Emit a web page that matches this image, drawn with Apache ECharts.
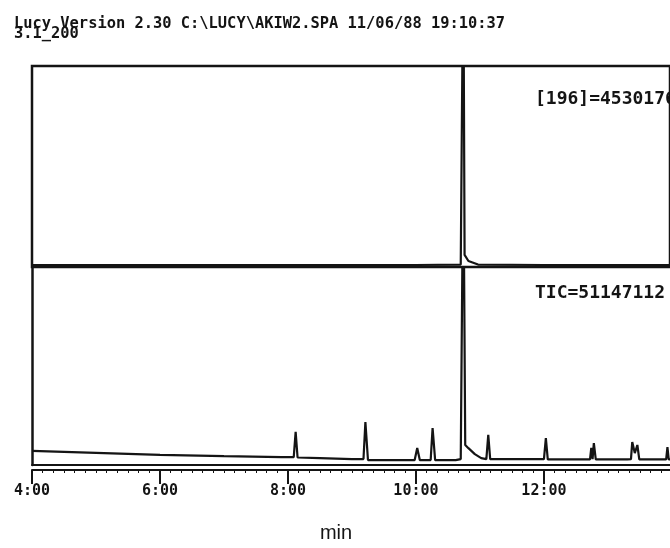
<!DOCTYPE html>
<html><head><meta charset="utf-8">
<script src="https://cdn.jsdelivr.net/npm/echarts@6/dist/echarts.min.js"></script>
<style>html,body{margin:0;padding:0;background:#fff}#c{width:670px;height:548px}</style>
</head><body><div id="c"></div>
<script>
// ---- text ----
const headerLines = ["Lucy Version 2.30 C:\\LUCY\\AKIW2.SPA 11/06/88 19:10:37", "3.1_200"];
const upperLabel = "[196]=4530176";
const lowerLabel = "TIC=51147112";
const xTickValues = [4, 6, 8, 10, 12];
const xTickLabels = ["4:00", "6:00", "8:00", "10:00", "12:00"];
const xAxisName = "min";

// ---- ion 196 trace (time in min, relative intensity % of panel) ----
const ion196Time  = [4.00, 6.00, 8.00, 10.00, 10.70, 10.74, 10.76, 10.82, 10.97, 12.00, 13.97];
const ion196Value = [1.0,  1.0,  1.0,  1.0,   1.2,   160,   6,     3,     1.2,   1.0,   1.0];

// ---- TIC trace (time in min, relative intensity % of panel) ----
const ticTime  = [4.00, 5.00, 6.00, 7.00, 7.90, 8.09, 8.12, 8.15, 8.50, 9.00, 9.18, 9.21, 9.25, 9.60, 9.98, 10.02, 10.06,
                  10.23, 10.26, 10.30, 10.62, 10.70, 10.74, 10.77, 10.82, 10.92, 11.02, 11.10, 11.13, 11.16, 11.60,
                  12.00, 12.03, 12.06, 12.50, 12.72, 12.74, 12.76, 12.78, 12.81, 13.30, 13.36, 13.38, 13.42, 13.46,
                  13.49, 13.80, 13.91, 13.93, 13.95, 13.97];
const ticValue = [7.1,  6.1,  5.1,  4.5,  4.0,  4.0,  16.7, 3.8,  3.5,  3.0,  3.0,  21.7, 2.5,  2.5,  2.5,  8.6,   2.5,
                  2.5,   18.7,  2.5,   2.5,   3.0,   160,   10.1,  8.5,   5.5,   3.5,   3.0,   15.2,  3.0,   3.0,
                  3.0,   13.6,  2.8,   2.8,   2.8,   8.6,   3.0,   11.1,  2.8,   2.8,   3.0,   11.6,  6.0,   10.1,
                  2.8,   2.8,   2.8,   9.0,   2.8,   2.8];

const X_MIN = 4, X_MAX = 13.97;
const INK = '#141414';
const MONO = '"DejaVu Sans Mono", "Liberation Mono", monospace';
const pair = (t, v) => t.map((x, i) => [x, v[i]]);
const tickFmt = v => { const i = xTickValues.indexOf(Math.round(v * 100) / 100); return i >= 0 ? xTickLabels[i] : ''; };

const chart = echarts.init(document.getElementById('c'), null, {renderer: 'canvas'});
chart.setOption({
  animation: false,
  backgroundColor: '#ffffff',
  title: [
    {text: headerLines.join('\n'), left: 9, top: 14,
     textStyle: {fontFamily: MONO, fontWeight: 'bold', fontSize: 15.4, lineHeight: 10, color: INK}},
    {text: upperLabel, left: 530, top: 85,
     textStyle: {fontFamily: MONO, fontWeight: 'bold', fontSize: 18, color: INK}},
    {text: lowerLabel, left: 530, top: 279,
     textStyle: {fontFamily: MONO, fontWeight: 'bold', fontSize: 18, color: INK}}
  ],
  grid: [
    {left: 32, right: -2, top: 66, height: 201, show: true, borderColor: INK, borderWidth: 2.5, backgroundColor: 'transparent'},
    {left: 32, right: -2, top: 267, bottom: 83}
  ],
  xAxis: [
    {gridIndex: 0, type: 'value', min: X_MIN, max: X_MAX, show: false},
    // panel bottom line
    {gridIndex: 1, type: 'value', min: X_MIN, max: X_MAX, interval: 2,
     axisLine: {show: true, lineStyle: {color: INK, width: 2}},
     axisTick: {show: false}, axisLabel: {show: false}, splitLine: {show: false}},
    // time ruler just below it
    {gridIndex: 1, type: 'value', min: X_MIN, max: X_MAX, interval: 2, position: 'bottom', offset: 5,
     axisLine: {show: true, lineStyle: {color: INK, width: 2}},
     axisTick: {show: true, inside: false, length: 14, customValues: xTickValues, lineStyle: {color: INK, width: 2}},
     minorTick: {show: true, splitNumber: 12, length: 3, lineStyle: {color: INK, width: 1}},
     splitLine: {show: false},
     axisLabel: {margin: 14, fontFamily: MONO, fontWeight: 'bold', fontSize: 15, color: INK, formatter: tickFmt,
                 customValues: xTickValues},
     name: xAxisName, nameLocation: 'middle', nameGap: 53,
     nameTextStyle: {fontFamily: '"Liberation Sans", Arial, sans-serif', fontSize: 20, color: INK,
                     padding: [0, 30, 0, 0]}}
  ],
  yAxis: [
    {gridIndex: 0, type: 'value', min: 0, max: 100, show: false},
    {gridIndex: 1, type: 'value', min: 0, max: 100,
     axisLine: {show: true, lineStyle: {color: INK, width: 2.5}},
     axisTick: {show: false}, axisLabel: {show: false}, splitLine: {show: false}}
  ],
  series: [
    {type: 'line', xAxisIndex: 0, yAxisIndex: 0, data: pair(ion196Time, ion196Value),
     showSymbol: false, clip: true, lineStyle: {color: INK, width: 2.2}},
    {type: 'line', xAxisIndex: 1, yAxisIndex: 1, data: pair(ticTime, ticValue),
     showSymbol: false, clip: true, lineStyle: {color: INK, width: 2.2}}
  ]
});
</script></body></html>
